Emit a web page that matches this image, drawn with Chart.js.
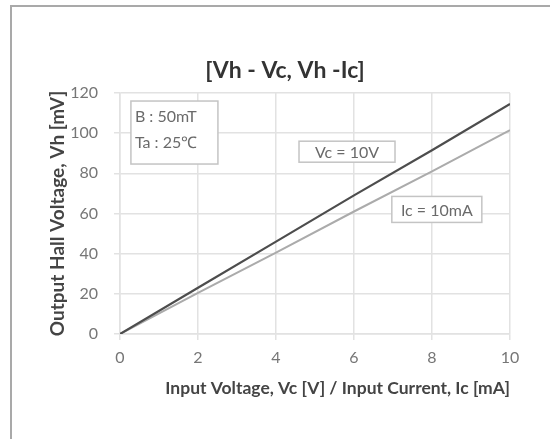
<!DOCTYPE html>
<html>
<head>
<meta charset="utf-8">
<script src="https://cdn.jsdelivr.net/npm/chart.js@4"></script>
<style>
  html, body { margin: 0; padding: 0; background: #fff; overflow: hidden; }
  #wrap { position: relative; width: 550px; height: 439px; }
  #frame { position: absolute; left: 10px; top: 5px; width: 600px; height: 500px; border: 2px solid #a9a9a9; }
  canvas { position: absolute; left: 0; top: 0; }
</style>
</head>
<body>
<div id="wrap">
  <div id="frame"></div>
  <canvas id="chart" width="550" height="439"></canvas>
</div>
<script>
const xValues  = [0, 2, 4, 6, 8, 10];
const vhVc10V  = [0, 23, 46, 69, 91.5, 114.5];
const vhIc10mA = [0, 20.5, 40.5, 61, 81, 101.5];

const conditionLines = ['B : 50mT', 'Ta : 25\u2103'];
const seriesLabels   = ['Vc = 10V', 'Ic = 10mA'];

const FONT = 'Lato, "Liberation Sans", sans-serif';
const GRID = '#e2e2e2';
const TICK_TEXT = '#767676';
const AXIS_TEXT = '#444';

// note boxes, anchored to data coords (top-left corner)
const boxes = [
  { x: 0.28, y: 116, w: 87, h: 63, lines: conditionLines, align: 'left' },
  { x: 4.59, y: 96,  w: 96, h: 21, lines: [seriesLabels[0]], align: 'center' },
  { x: 6.97, y: 68.5, w: 90, h: 26, lines: [seriesLabels[1]], align: 'center' },
];

const noteBoxes = {
  id: 'noteBoxes',
  afterDatasetsDraw(chart) {
    const { ctx, scales: { x, y } } = chart;
    ctx.save();
    ctx.font = '16px ' + FONT;
    ctx.textBaseline = 'middle';
    boxes.forEach(b => {
      const left = x.getPixelForValue(b.x);
      const top = y.getPixelForValue(b.y);
      ctx.fillStyle = '#fff';
      ctx.fillRect(left, top, b.w, b.h);
      ctx.strokeStyle = '#c4c4c4';
      ctx.lineWidth = 1.5;
      ctx.strokeRect(left, top, b.w, b.h);
      ctx.fillStyle = '#6a6a6a';
      if (b.align === 'left') {
        ctx.textAlign = 'left';
        b.lines.forEach((t, i) => ctx.fillText(t, left + 4, top + 16 + i * 26));
      } else {
        ctx.textAlign = 'center';
        ctx.fillText(b.lines[0], left + b.w / 2, top + b.h / 2 + 1);
      }
    });
    ctx.restore();
  },
};

new Chart(document.getElementById('chart').getContext('2d'), {
  type: 'line',
  data: {
    datasets: [
      {
        label: seriesLabels[0],
        data: xValues.map((v, i) => ({ x: v, y: vhVc10V[i] })),
        borderColor: '#4d4d4d',
        borderWidth: 2.2,
        pointRadius: 0,
        tension: 0,
      },
      {
        label: seriesLabels[1],
        data: xValues.map((v, i) => ({ x: v, y: vhIc10mA[i] })),
        borderColor: '#ababab',
        borderWidth: 2,
        pointRadius: 0,
        tension: 0,
      },
    ],
  },
  options: {
    responsive: false,
    animation: false,
    layout: { padding: { left: 60, right: 40, top: 0, bottom: 0 } },
    plugins: {
      legend: { display: false },
      tooltip: { enabled: false },
      title: {
        display: true,
        text: '[Vh - Vc, Vh -Ic]',
        color: '#333',
        font: { family: FONT, size: 23, weight: 'bold', lineHeight: 1.2 },
        padding: { top: 57, bottom: 8.4 },
      },
    },
    scales: {
      x: {
        type: 'linear',
        min: 0,
        max: 10,
        afterFit: (scale) => { scale.height = 105; },
        ticks: {
          stepSize: 2,
          color: TICK_TEXT,
          padding: 8,
          maxRotation: 0,
          font: { family: FONT, size: 16 },
        },
        grid: { color: GRID, lineWidth: 1.5, tickLength: 6 },
        border: { color: GRID, width: 1.5 },
        title: {
          display: true,
          align: 'end',
          text: 'Input Voltage, Vc [V] / Input Current, Ic [mA]',
          color: AXIS_TEXT,
          font: { family: FONT, size: 17.5, weight: 'bold', lineHeight: 1.2 },
          padding: { top: 0, bottom: 40 },
        },
      },
      y: {
        type: 'linear',
        min: 0,
        max: 120,
        afterFit: (scale) => { scale.width = 60; },
        ticks: {
          stepSize: 20,
          color: TICK_TEXT,
          padding: 16,
          font: { family: FONT, size: 16 },
        },
        grid: { color: GRID, lineWidth: 1.5, tickLength: 6 },
        border: { color: GRID, width: 1.5 },
        title: {
          display: true,
          text: 'Output Hall Voltage, Vh [mV]',
          color: AXIS_TEXT,
          font: { family: FONT, size: 19, weight: 'bold', lineHeight: 1.2 },
          padding: { top: -14, bottom: 0 },
        },
      },
    },
  },
  plugins: [noteBoxes],
});
</script>
</body>
</html>
